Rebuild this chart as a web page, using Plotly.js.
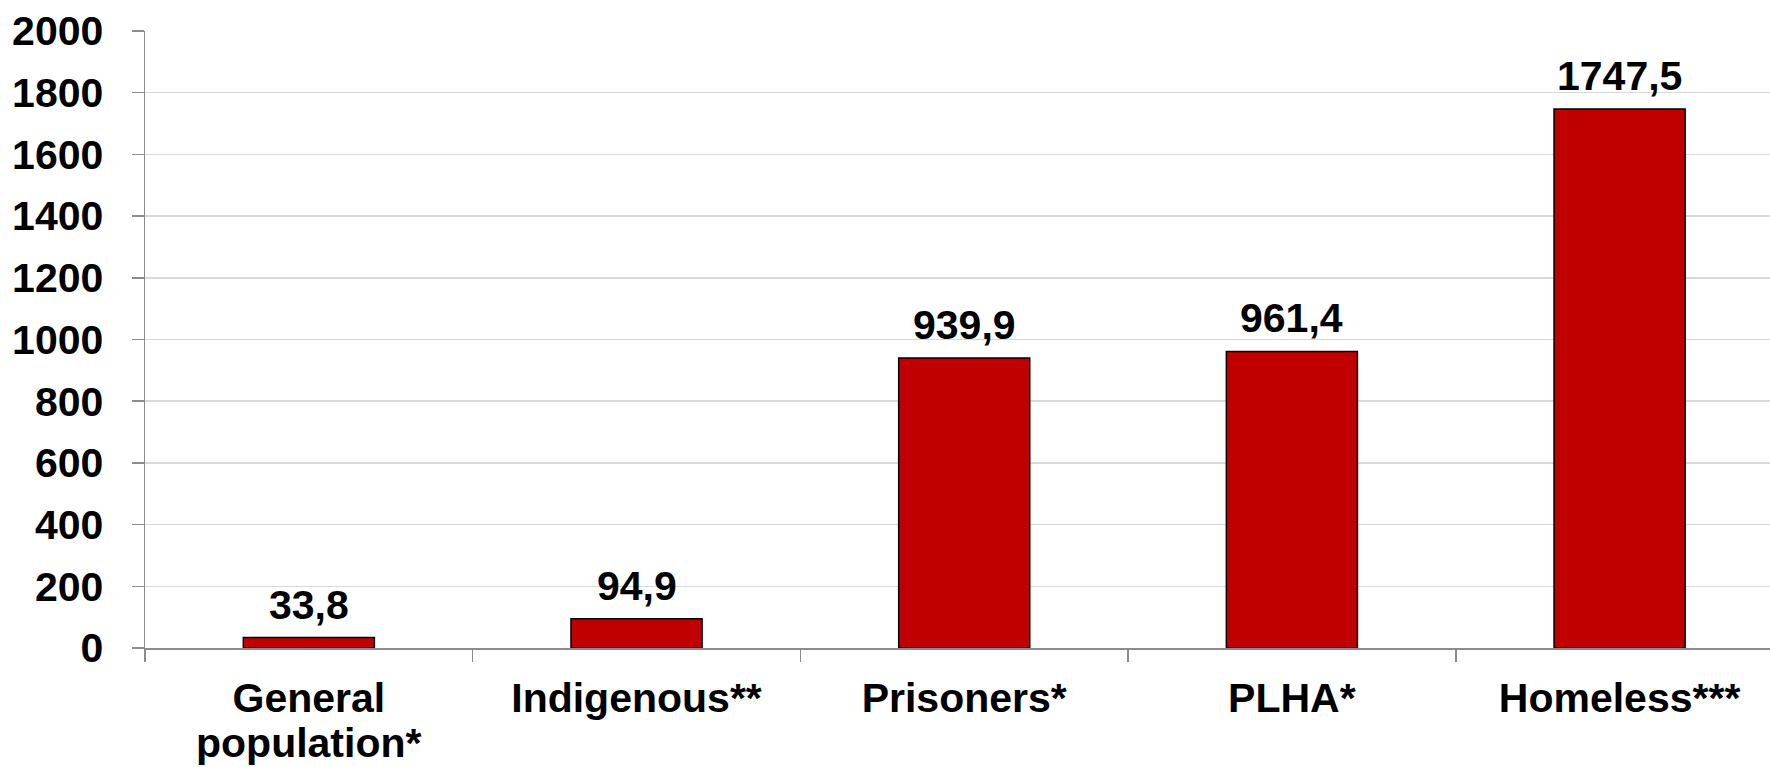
<!DOCTYPE html>
<html>
<head>
<meta charset="utf-8">
<script src="https://cdn.plot.ly/plotly-3.0.1.min.js"></script>
<style>html,body{margin:0;padding:0;background:#fff;}#chart{width:1770px;height:767px;}</style>
</head>
<body>
<div id="chart"></div>
<script>
const categories = ["General population*", "Indigenous**", "Prisoners*", "PLHA*", "Homeless***"];
const tickLine1 = ["General", "Indigenous**", "Prisoners*", "PLHA*", "Homeless***"];
const tickLine2 = ["population*", "", "", "", ""];
const values = [33.8, 94.9, 939.9, 961.4, 1747.5];
const valueLabels = ["33,8", "94,9", "939,9", "961,4", "1747,5"];
const yTicks = [0, 200, 400, 600, 800, 1000, 1200, 1400, 1600, 1800, 2000];

const FONT = "Liberation Sans, Arial, sans-serif";

const trace = {
  type: "bar",
  x: categories,
  y: values,
  marker: { color: "#C00000", line: { color: "#000000", width: 1.5 } },
  hoverinfo: "skip"
};

const annotations = categories.map((c, i) => ({
  x: c, y: values[i], xref: "x", yref: "y",
  text: "<b>" + valueLabels[i] + "</b>",
  showarrow: false, yanchor: "bottom", yshift: 8,
  font: { family: FONT, size: 41, color: "#000" }
}));

categories.forEach((c, i) => {
  if (tickLine2[i]) {
    annotations.push({
      x: c, y: 0, xref: "x", yref: "paper",
      text: "<b>" + tickLine2[i] + "</b>",
      showarrow: false, yanchor: "top", yshift: -70,
      font: { family: FONT, size: 41, color: "#000" }
    });
  }
});

const layout = {
  width: 1770, height: 767,
  margin: { l: 145, r: 0, t: 31, b: 119 },
  paper_bgcolor: "#fff", plot_bgcolor: "#fff",
  showlegend: false,
  bargap: 0.6,
  font: { family: FONT, size: 41, color: "#000" },
  xaxis: {
    type: "category",
    range: [-0.5, 4.459],
    tickson: "boundaries",
    tickvals: categories,
    ticktext: tickLine1,
    ticks: "outside", ticklen: 12, tickcolor: "#8c8c8c", tickwidth: 1.5,
    showline: true, linecolor: "#8c8c8c", linewidth: 1.5,
    showgrid: false, zeroline: false,
    tickfont: { family: FONT, size: 41, color: "#000", weight: "bold" },
    ticklabelstandoff: 13,
    fixedrange: true
  },
  yaxis: {
    range: [0, 2000],
    tickvals: yTicks,
    ticktext: yTicks.map(String),
    ticks: "outside", ticklen: 12, tickcolor: "#8c8c8c", tickwidth: 1.5,
    showline: true, linecolor: "#8c8c8c", linewidth: 1.5,
    showgrid: true, gridcolor: "#d9d9d9", gridwidth: 1.5,
    zeroline: false,
    tickfont: { family: FONT, size: 41, color: "#000", weight: "bold" },
    ticklabelstandoff: 20,
    fixedrange: true
  },
  annotations: annotations
};

Plotly.newPlot("chart", [trace], layout, { displayModeBar: false, staticPlot: true });
</script>
</body>
</html>
